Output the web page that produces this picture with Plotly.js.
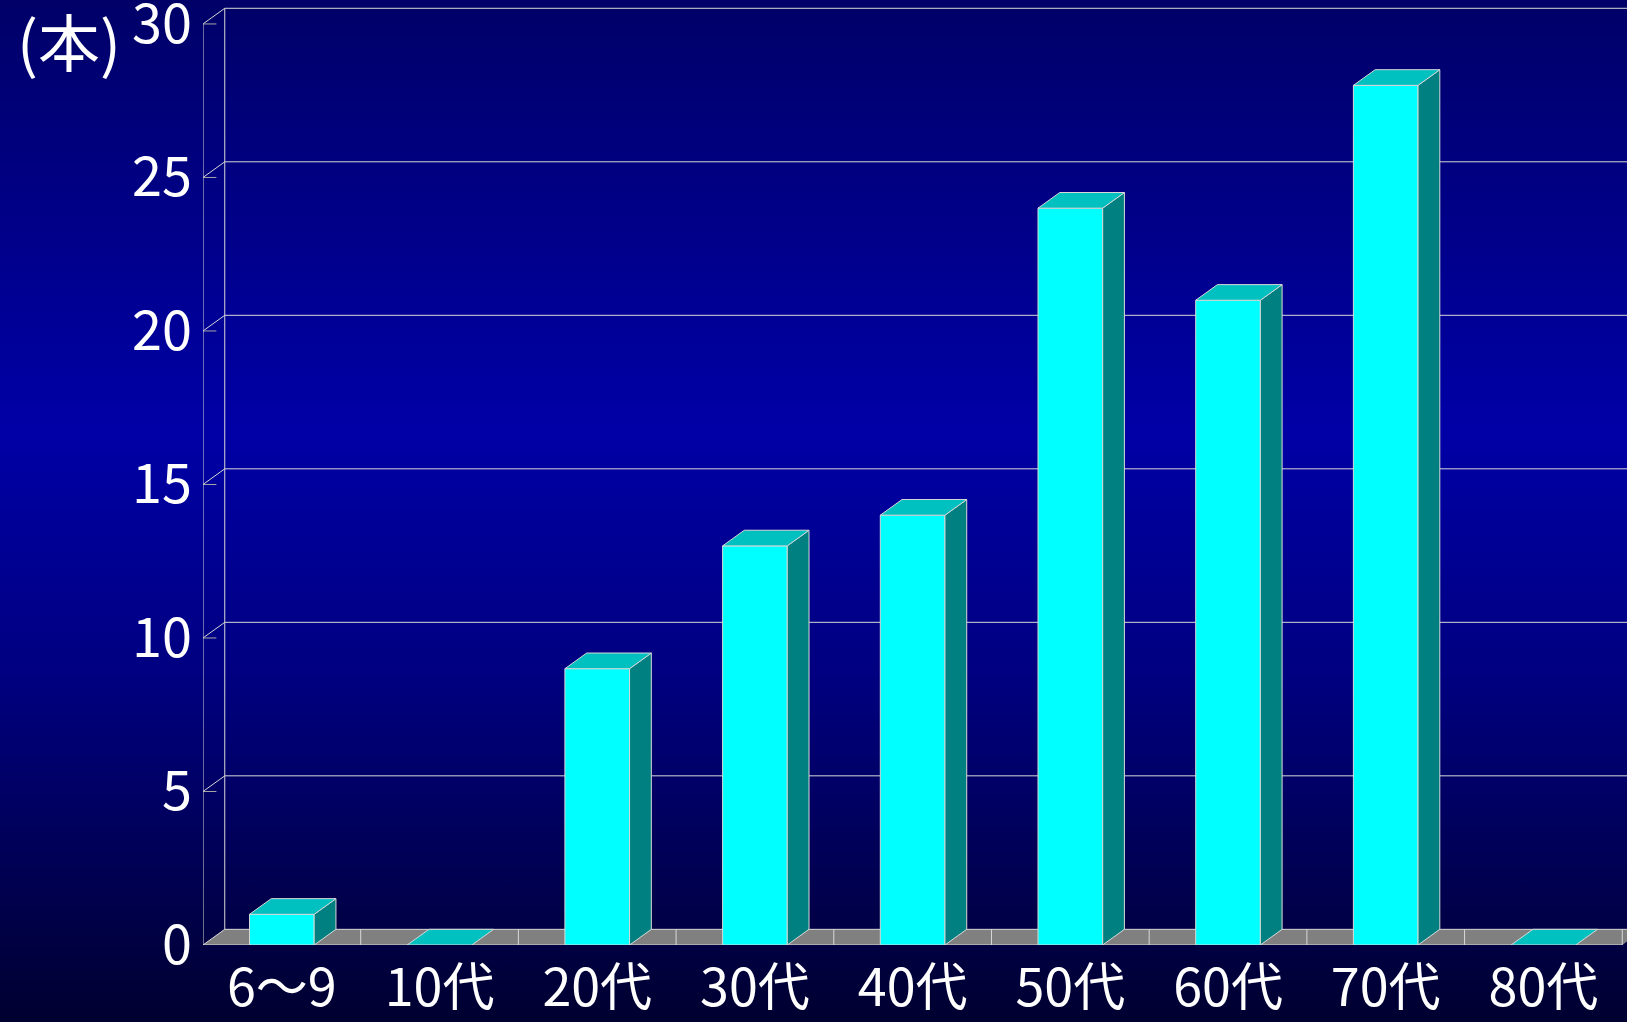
<!DOCTYPE html>
<html>
<head>
<meta charset="utf-8">
<script src="https://cdn.plot.ly/plotly-3.0.1.min.js"></script>
<style>
html,body{margin:0;padding:0;}
body{width:1627px;height:1022px;background:linear-gradient(to bottom,#000068 0%,#0000A6 42%,#000080 66%,#000030 100%);}
#chart{width:1627px;height:1022px;}
</style>
</head>
<body>
<div id="chart"></div>
<script>
// ---- data ----
const categories = ["6〜9", "10代", "20代", "30代", "40代", "50代", "60代", "70代", "80代"];
const counts = [1, 0, 9, 13, 14, 24, 21, 28, 0];
const yTicks = [0, 5, 10, 15, 20, 25, 30];
const yUnitLabel = "(本)";

// ---- styling / geometry (not data) ----
const barW = 0.41;       // bar width in category units
const dX = 0.138;        // depth offset (x units)
const dY = 0.51;         // depth offset (y units)
const xMin = -0.5, xMax = 8.53;
const yMax = 30.78;
const edge = '#D8D8D8';
const fam = '"Noto Sans CJK JP", "Noto Sans", sans-serif';
const font = {family: fam, color: '#FFFFFF', size: 54};
const xFont = {family: fam, color: '#FFFFFF', size: 52};

const idx = categories.map((c, i) => i);
const shapes = [];
const line = (x0, y0, x1, y1, color, w) => shapes.push({type: 'line', xref: 'x', yref: 'y', x0, y0, x1, y1, layer: 'below', line: {color: color || edge, width: w || 1}});

// floor
const nCat = categories.length;
shapes.push({type: 'path', xref: 'x', yref: 'y', layer: 'below',
  path: `M ${xMin} 0 L ${nCat - 0.5} 0 L ${nCat - 0.5 + dX} ${dY} L ${xMin + dX} ${dY} Z`,
  fillcolor: '#808080', line: {width: 0}});
// back wall gridlines, side-wall diagonals, front tick marks
yTicks.forEach(v => {
  line(xMin + dX, v + dY, xMax + 1, v + dY);
  line(xMin, v, xMin + dX, v + dY);
  if (v > 0) line(xMin, v, xMin + 0.085, v, '#A8A8A8');
});
// walls' vertical edges
line(xMin, 0, xMin, yTicks[yTicks.length - 1]);
line(xMin + dX, dY, xMin + dX, yTicks[yTicks.length - 1] + dY);
// floor front edge and category dividers
line(xMin, 0, nCat - 0.5, 0);
for (let k = 1; k <= nCat; k++) line(k - 0.5, 0, k - 0.5, dY);

const traces = [];
// front faces
traces.push({type: 'bar', x: idx, y: counts, width: barW,
  marker: {color: '#00FFFF', line: {color: edge, width: 1}}, hoverinfo: 'skip'});
// side and top faces
counts.forEach((v, i) => {
  const l = i - barW / 2, r = i + barW / 2;
  if (v > 0) {
    traces.push({type: 'scatter', mode: 'lines', fill: 'toself', fillcolor: '#008080',
      x: [r, r + dX, r + dX, r, r], y: [0, dY, v + dY, v, 0],
      line: {color: edge, width: 1}, hoverinfo: 'skip'});
  }
  traces.push({type: 'scatter', mode: 'lines', fill: 'toself', fillcolor: '#00C0C0',
    x: [l, r, r + dX, l + dX, l], y: [v, v, v + dY, v + dY, v],
    line: {color: edge, width: 1}, hoverinfo: 'skip'});
});

const layout = {
  width: 1627, height: 1022,
  margin: {l: 203, r: 0, t: 0, b: 77, pad: 0},
  paper_bgcolor: 'rgba(0,0,0,0)', plot_bgcolor: 'rgba(0,0,0,0)',
  showlegend: false,
  font: font,
  xaxis: {type: 'linear', range: [xMin, xMax], tickmode: 'array', tickvals: idx, ticktext: categories,
    showgrid: false, zeroline: false, showline: false, ticks: '', tickfont: xFont, ticklabelstandoff: 8,
    ticklabeloverflow: 'allow', fixedrange: true},
  yaxis: {range: [0, yMax], tickmode: 'array', tickvals: yTicks, ticktext: yTicks.map(String),
    showgrid: false, zeroline: false, showline: false, ticks: '', tickfont: font, ticklabelstandoff: 10,
    ticklabeloverflow: 'allow', fixedrange: true},
  shapes: shapes,
  annotations: [{text: yUnitLabel, xref: 'paper', yref: 'paper', x: (69 - 203) / 1424, y: (945 - 40) / 945,
    xanchor: 'center', yanchor: 'middle', showarrow: false, font: {family: fam, color: '#FFFFFF', size: 62}}]
};

Plotly.newPlot('chart', traces, layout, {staticPlot: true, displayModeBar: false});
</script>
</body>
</html>
